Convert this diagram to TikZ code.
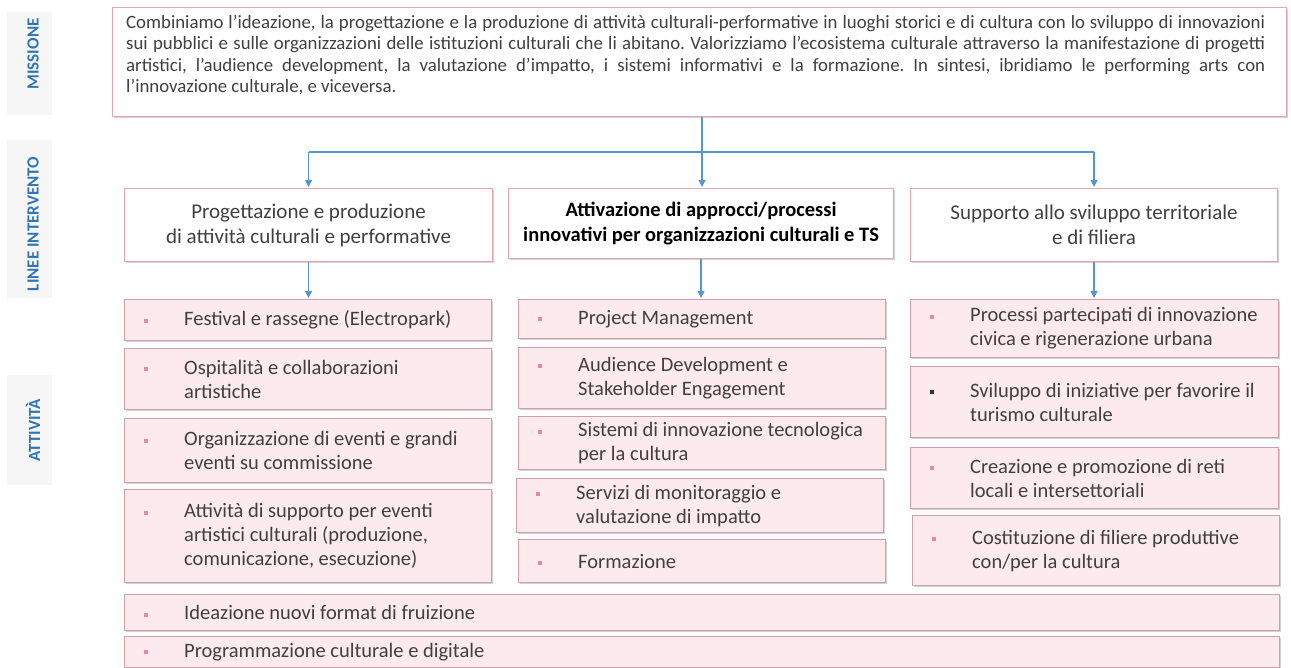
\documentclass[tikz,border=0pt]{standalone}
\usepackage{fontspec}
\setmainfont{Carlito}
\usetikzlibrary{arrows.meta,shadows}
\definecolor{pinkb}{HTML}{E4A5B4}
\definecolor{actborder}{HTML}{CFA0AB}
\definecolor{actfill}{HTML}{FCEAEE}
\definecolor{connblue}{HTML}{5597CC}
\definecolor{labelblue}{HTML}{2F75B5}
\definecolor{labelbg}{HTML}{F6F6F6}
\definecolor{textgray}{HTML}{404040}
\definecolor{bulpink}{HTML}{E8899C}
\definecolor{buldark}{HTML}{333333}
\newcommand\mybul[1]{\makebox[0pt][r]{\textcolor{#1}{\rule[3pt]{4pt}{4pt}}\hspace{36pt}}}
\tikzset{
  boxshadow/.style={drop shadow={shadow xshift=1.2pt,shadow yshift=-1.2pt,opacity=0.35,fill=gray}},
  topbox/.style={draw=pinkb,fill=white,line width=1.1pt,inner sep=0pt,boxshadow},
  hbox/.style={draw=pinkb,fill=white,line width=1.1pt,inner sep=0pt,align=center,
     text=textgray,font=\fontsize{21}{25}\selectfont,boxshadow},
  actbox/.style={draw=actborder,fill=actfill,line width=1.1pt,inner sep=0pt,boxshadow},
  acttext/.style={inner sep=0pt,align=left,text=textgray,font=\fontsize{20.5}{24}\selectfont},
  lbl/.style={text=labelblue,font=\bfseries\fontsize{17}{17}\selectfont,inner sep=0pt},
  conn/.style={draw=connblue,line width=1.2pt,-{Triangle[width=7pt,length=7pt]},shorten >=1pt},
  connline/.style={draw=connblue,line width=1.2pt}
}
\newcommand\actitem[7]{%
  \node[actbox,minimum width={#4-#2},minimum height={#5-#3},anchor=north west] (#1) at (#2,#3) {};
  \node[acttext,anchor=west] (#1t) at ([xshift=60pt]#1.west) {\mybul{#7}#6};
}
\frenchspacing
\begin{document}
\begin{tikzpicture}[x=1pt,y=-1pt]
\useasboundingbox[fill=white] (0,0) rectangle (1291,667);

% left labels
\fill[labelbg] (7,12) rectangle (52,115);
\fill[labelbg] (7,140) rectangle (52,298);
\fill[labelbg] (7,375) rectangle (52,485);
\node[lbl,rotate=90] (lmis) at (33,54) {MISSIONE};
\node[lbl,rotate=90] (llin) at (33,224) {LINEE INTERVENTO};
\node[lbl,rotate=90] (latt) at (33,430) {ATTIVITÀ};

% mission box
\node[topbox,minimum width=1174,minimum height=109,anchor=north west] (top) at (112,7) {};
\node[inner sep=0pt,anchor=north west,text width=1139pt,align=justify,text=textgray,
      font=\fontsize{18.8}{21.5}\selectfont] (toptext) at (126,15)
 {\frenchspacing Combiniamo l’ideazione, la progettazione e la produzione di attività culturali-performative in luoghi storici e di cultura con lo sviluppo di innovazioni\linebreak
 sui pubblici e sulle organizzazioni delle istituzioni culturali che li abitano. Valorizziamo l’ecosistema culturale attraverso la manifestazione di progetti\linebreak
 artistici, l’audience development, la valutazione d’impatto, i sistemi informativi e la formazione. In sintesi, ibridiamo le performing arts con\linebreak
 l’innovazione culturale, e viceversa.};

% header boxes
\node[hbox,minimum width=368,minimum height=73,anchor=north west] (h1) at (124,188)
  {Progettazione e produzione\\di attività culturali e performative};
\node[hbox,minimum width=385,minimum height=70,anchor=north west,text=black,
      font=\bfseries\fontsize{20.5}{25}\selectfont] (h2) at (508,188)
  {Attivazione di approcci/processi\\innovativi per organizzazioni culturali e TS};
\node[hbox,minimum width=367,minimum height=73,anchor=north west] (h3) at (910,188)
  {Supporto allo sviluppo territoriale\\e di filiera};

% column 1
\actitem{a11}{124}{299}{491}{340}{Festival e rassegne (Electropark)}{bulpink}
\actitem{a12}{124}{348}{491}{409}{Ospitalità e collaborazioni\\artistiche}{bulpink}
\actitem{a13}{124}{418}{491}{482}{Organizzazione di eventi e grandi\\eventi su commissione}{bulpink}
\actitem{a14}{124}{489}{491}{582}{Attività di supporto per eventi\\artistici culturali (produzione,\\comunicazione, esecuzione)}{bulpink}
% column 2
\actitem{a21}{518}{299}{885}{338}{Project Management}{bulpink}
\actitem{a22}{518}{347}{885}{408}{Audience Development e\\Stakeholder Engagement}{bulpink}
\actitem{a23}{518}{416}{885}{469}{Sistemi di innovazione tecnologica\\per la cultura}{bulpink}
\actitem{a24}{516}{478}{883}{532}{Servizi di monitoraggio e\\valutazione di impatto}{bulpink}
\actitem{a25}{518}{539}{885}{582}{Formazione}{bulpink}
% column 3
\actitem{a31}{910}{299}{1278}{357}{Processi partecipati di innovazione\\civica e rigenerazione urbana}{bulpink}
\actitem{a32}{910}{366}{1278}{437}{Sviluppo di iniziative per favorire il\\turismo culturale}{buldark}
\actitem{a33}{910}{447}{1278}{508}{Creazione e promozione di reti\\locali e intersettoriali}{bulpink}
\actitem{a34}{912}{515}{1279}{585}{Costituzione di filiere produttive\\con/per la cultura}{bulpink}
% bottom rows
\actitem{b1}{124}{594}{1279}{630}{Ideazione nuovi format di fruizione}{bulpink}
\actitem{b2}{124}{636}{1279}{667}{Programmazione culturale e digitale}{bulpink}

% connectors
\coordinate (bus) at (702,152);
\draw[conn] (top.south -| bus) -- (bus) -- (bus |- h2.north);
\draw[connline] (bus -| h1.north) -- (bus -| h3.north);
\draw[conn] (bus -| h1.north) -- (h1.north);
\draw[conn] (bus -| h3.north) -- (h3.north);
\draw[conn] (h1.south) -- (h1.south |- a11.north);
\draw[conn] (h2.south) -- (h2.south |- a21.north);
\draw[conn] (h3.south) -- (h3.south |- a31.north);
\end{tikzpicture}
\end{document}
